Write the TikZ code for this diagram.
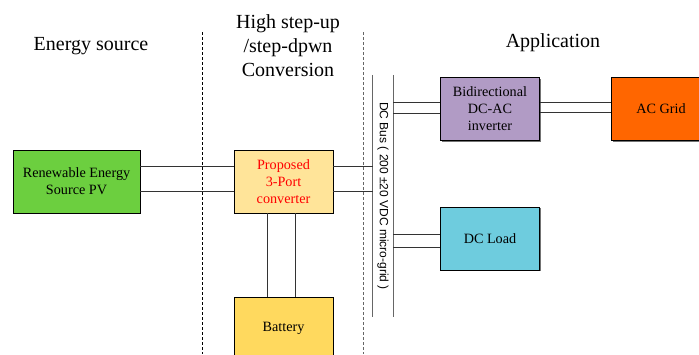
\documentclass[tikz,border=0pt]{standalone}
\usepackage{fontspec}
\setmainfont{Liberation Serif}
\setsansfont{Liberation Sans}
\usetikzlibrary{shadows}

\definecolor{pvgreen}{HTML}{6CCF3F}
\definecolor{convyellow}{HTML}{FFE499}
\definecolor{battyellow}{HTML}{FFD95E}
\definecolor{invpurple}{HTML}{B19BC5}
\definecolor{gridorange}{HTML}{FF6600}
\definecolor{loadcyan}{HTML}{6ECCDE}

\begin{document}
\begin{tikzpicture}[
		x=1pt,
		y=-1pt,
		block/.style={
			shape=rectangle,
			draw,
			line width=0.8pt,
			minimum height=63pt,
			minimum width=99pt,
			align=center,
			font=\fontsize{14.2}{17}\selectfont,
			drop shadow={shadow xshift=1.2pt, shadow yshift=-1.2pt, opacity=1, fill=black!55},
		},
		wire/.style={line width=0.8pt, draw=black!80},
		busline/.style={line width=1pt, draw=black!60},
		divider/.style={densely dashed, line width=0.6pt},
		heading/.style={align=center, font=\fontsize{20}{24}\selectfont},
	]
		\useasboundingbox (0,0) rectangle (699,354);

		% column dividers
		\draw[divider] (202,32) -- (202,354);
		\draw[divider, draw=black!60] (363,32) -- (363,354);

		% headings
		\node[heading] (hsource) at (91,46) {Energy source};
		\node[heading] (hconv) at (288,46) {High step-up\\/step-dpwn\\Conversion};
		\node[heading] (happ) at (553,43) {Application};

		% blocks
		\node[block, fill=pvgreen, minimum width=127pt] (pv) at (76.5,181.5) {Renewable Energy\\Source PV};
		\node[block, fill=convyellow, text=red] (conv) at (283.5,181.5) {Proposed\\3-Port\\converter};
		\node[block, fill=battyellow] (batt) at (283.5,328.5) {Battery};
		\node[block, fill=invpurple] (inv) at (490,109) {Bidirectional\\DC-AC\\inverter};
		\node[block, fill=gridorange] (grid) at (661,109) {AC Grid};
		\node[block, fill=loadcyan] (load) at (490,238.5) {DC Load};

		% dc bus
		\node[minimum width=20pt, minimum height=242pt, inner sep=0pt,
			font=\sffamily\fontsize{12}{14}\selectfont] (bus) at (383,196)
			{\rotatebox{-90}{DC Bus ( 200 ±20 VDC micro-grid )}};
		\draw[busline] (bus.north west) -- (bus.south west);
		\draw[busline] (bus.north east) -- (bus.south east);

		% connections
		\draw[wire] ([yshift=15.5pt]pv.east) -- ([yshift=15.5pt]conv.west);
		\draw[wire] ([yshift=-9.5pt]pv.east) -- ([yshift=-9.5pt]conv.west);
		\draw[wire] ([yshift=15.5pt]conv.east) -- ([yshift=15.5pt]conv.east -| bus.west);
		\draw[wire] ([yshift=-9.5pt]conv.east) -- ([yshift=-9.5pt]conv.east -| bus.west);
		\draw[wire] ([xshift=-16.5pt]conv.south) -- ([xshift=-16.5pt]batt.north);
		\draw[wire] ([xshift=11.5pt]conv.south) -- ([xshift=11.5pt]batt.north);
		\draw[wire] ([yshift=7pt]inv.west -| bus.east) -- ([yshift=7pt]inv.west);
		\draw[wire] ([yshift=-4pt]inv.west -| bus.east) -- ([yshift=-4pt]inv.west);
		\draw[wire] ([yshift=7pt]inv.east) -- ([yshift=7pt]grid.west);
		\draw[wire] ([yshift=-3pt]inv.east) -- ([yshift=-3pt]grid.west);
		\draw[wire] ([yshift=4.5pt]load.west -| bus.east) -- ([yshift=4.5pt]load.west);
		\draw[wire] ([yshift=-8.5pt]load.west -| bus.east) -- ([yshift=-8.5pt]load.west);
	\end{tikzpicture}
\end{document}
